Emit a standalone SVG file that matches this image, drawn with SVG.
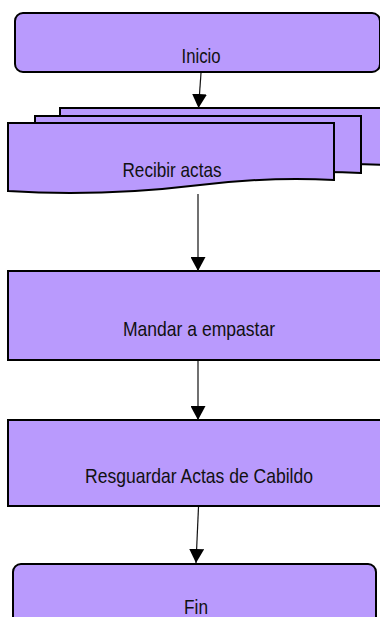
<svg xmlns="http://www.w3.org/2000/svg" width="380" height="617" viewBox="0 0 380 617">
<style>
.n{fill:#b99afd;stroke:#000;stroke-width:2}
.t{font-family:"Liberation Sans Narrow","Liberation Sans",Arial,sans-serif;font-size:21px;fill:#111;text-anchor:middle}
.c{fill:none;stroke:#111;stroke-width:1.2}
</style>
<defs>
<marker id="ah" viewBox="0 0 14 15" refX="14" refY="7.5" markerWidth="14" markerHeight="15" markerUnits="userSpaceOnUse" orient="auto">
<path d="M0,0 L14,7.5 L0,15 Z" fill="#000"/>
</marker>
<path id="doc" d="M8,123 H334 V180 C300,178 250,179 200,185 C150,191 80,196 8,191 Z"/>
</defs>
<g id="inicio">
<rect class="n" x="15" y="13" width="365" height="59" rx="8"/>
<text class="t" x="201" y="63" textLength="39" lengthAdjust="spacingAndGlyphs">Inicio</text>
</g>
<g id="recibir">
<use href="#doc" class="n" transform="translate(52,-15)"/>
<use href="#doc" class="n" transform="translate(27,-7)"/>
<use href="#doc" class="n"/>
<text class="t" x="172" y="177" textLength="99" lengthAdjust="spacingAndGlyphs">Recibir actas</text>
</g>
<g id="mandar">
<rect class="n" x="8" y="271" width="380" height="89"/>
<text class="t" x="199" y="336" textLength="152" lengthAdjust="spacingAndGlyphs">Mandar a empastar</text>
</g>
<g id="resguardar">
<rect class="n" x="8" y="420" width="380" height="86"/>
<text class="t" x="199" y="483" textLength="228" lengthAdjust="spacingAndGlyphs">Resguardar Actas de Cabildo</text>
</g>
<g id="fin">
<rect class="n" x="13" y="564" width="363" height="70" rx="8"/>
<text class="t" x="196" y="614" textLength="24" lengthAdjust="spacingAndGlyphs">Fin</text>
</g>
<g id="connectors">
<path class="c" d="M201,73 L198.5,108" marker-end="url(#ah)"/>
<path class="c" d="M198,194 L198,271" marker-end="url(#ah)"/>
<path class="c" d="M198,361 L198,420" marker-end="url(#ah)"/>
<path class="c" d="M198.5,507 L196,563" marker-end="url(#ah)"/>
</g>
</svg>
